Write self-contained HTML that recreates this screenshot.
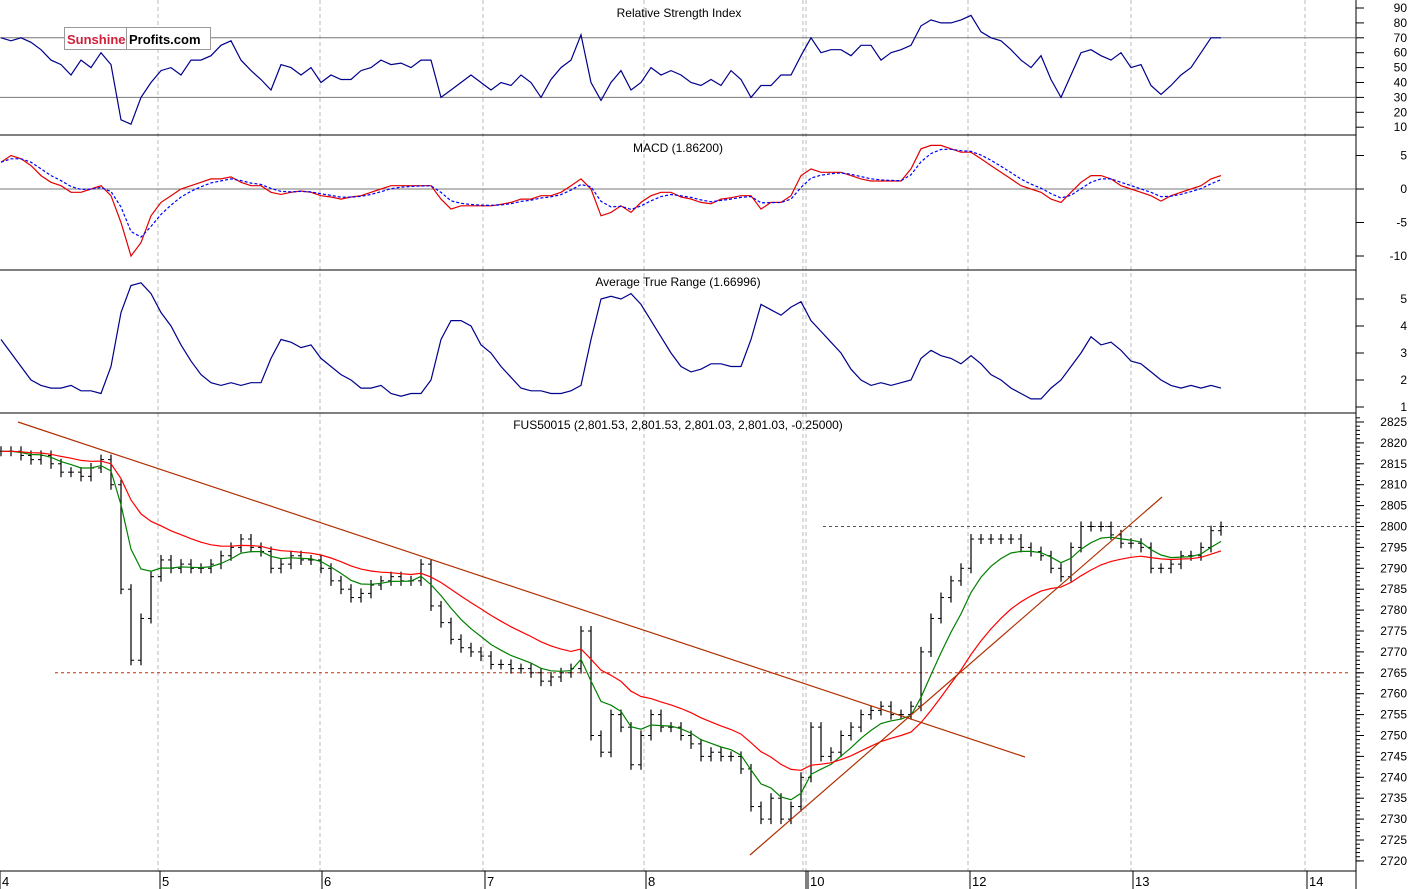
<!DOCTYPE html>
<html><head><meta charset="utf-8"><style>
html,body{margin:0;padding:0;background:#fff;}
svg{display:block;font-family:"Liberation Sans",sans-serif;}
</style></head><body>
<svg id="c" width="1412" height="889" xmlns="http://www.w3.org/2000/svg"></svg>
<script>
const closes=[2818,2818,2817,2816,2817,2815,2813,2813,2812,2814,2816,2810,2785,2768,2778,2788,2792,2790,2791,2790,2790,2791,2793,2795,2797,2795,2794,2790,2791,2793,2792,2792,2790,2787,2785,2783,2784,2786,2787,2788,2787,2787,2791,2781,2777,2773,2771,2770,2769,2767,2767,2766,2766,2765,2763,2764,2765,2766,2775,2750,2746,2755,2752,2743,2750,2755,2752,2752,2750,2748,2745,2746,2745,2745,2742,2733,2730,2735,2730,2733,2740,2752,2745,2746,2750,2752,2755,2756,2757,2755,2755,2757,2770,2778,2783,2787,2790,2797,2797,2797,2797,2797,2795,2794,2793,2790,2788,2795,2800,2800,2800,2798,2796,2796,2795,2790,2790,2791,2793,2793,2795,2799,2800];
const rsi=[70,68,70,67,62,55,52,45,55,50,60,52,15,12,30,40,48,50,45,55,55,58,65,68,55,48,42,35,52,50,45,50,40,45,42,42,48,50,55,52,53,50,55,55,30,35,40,45,40,35,40,38,45,40,30,42,50,55,72,40,28,40,48,35,40,50,45,48,45,40,38,42,38,48,42,30,38,38,45,45,58,70,60,62,62,58,65,65,55,60,62,65,78,82,80,80,82,85,74,70,68,62,55,50,58,42,30,45,60,62,58,55,60,50,52,38,32,38,45,50,60,70,70];
const macd=[4,5,4.5,3.5,2,1,0.5,-0.5,-0.5,0,0.5,-1,-5,-10,-8,-4,-2,-1,0,0.5,1,1.5,1.5,1.8,1,0.5,0.5,-0.5,-0.8,-0.5,-0.3,-0.5,-1,-1.2,-1.5,-1.2,-1,-0.5,0,0.5,0.5,0.5,0.5,0.5,-1.5,-3,-2.5,-2.5,-2.5,-2.5,-2.3,-2,-1.5,-1.5,-1,-1,-0.5,0.5,1.5,0,-4,-3.5,-2.5,-3.5,-2,-1,-0.5,-0.5,-1.2,-1.5,-2,-2.2,-1.5,-1.3,-1,-1,-3,-2,-2,-1,2,3,2.5,2.5,2.5,2,1.5,1.2,1.2,1.2,1.2,3,6,6.5,6.5,6,5.5,5.5,4.5,3.5,2.5,1.5,0.5,0,-0.5,-1.5,-2,-0.5,1,2,2,1.5,0.5,0,-0.5,-1,-1.8,-1,-0.5,0,0.5,1.5,2];
const atr=[3.5,3,2.5,2,1.8,1.7,1.7,1.8,1.6,1.6,1.5,2.5,4.5,5.5,5.6,5.2,4.5,4,3.3,2.7,2.2,1.9,1.8,1.9,1.8,1.9,1.9,2.8,3.5,3.4,3.2,3.3,2.8,2.5,2.2,2,1.7,1.7,1.8,1.5,1.4,1.5,1.5,2,3.5,4.2,4.2,4,3.3,3,2.5,2.1,1.7,1.6,1.6,1.5,1.5,1.6,1.8,3.5,5,5.1,5,5.2,4.8,4.2,3.6,3,2.5,2.3,2.4,2.6,2.6,2.5,2.5,3.5,4.8,4.6,4.4,4.7,4.9,4.2,3.8,3.4,3,2.4,2,1.8,1.9,1.8,1.9,2,2.8,3.1,2.9,2.8,2.6,2.9,2.6,2.2,2,1.7,1.5,1.3,1.3,1.7,2,2.5,3,3.6,3.3,3.4,3.1,2.7,2.6,2.3,2,1.8,1.7,1.8,1.7,1.8,1.7];
const dayLabels=["4","5","6","7","8","10","12","13","14"];
const dayX=[0,160,322,485,646,808,970,1133,1307];
const rsiTicks=[90,80,70,60,50,40,30,20,10];
const macdTicks=[5,0,-5,-10];
const atrTicks=[5,4,3,2,1];
const priceTicks=[2825,2820,2815,2810,2805,2800,2795,2790,2785,2780,2775,2770,2765,2760,2755,2750,2745,2740,2735,2730,2725,2720];

const S=document.getElementById('c');const NS='http://www.w3.org/2000/svg';
function el(t,a,p){const e=document.createElementNS(NS,t);for(const k in a)e.setAttribute(k,a[k]);(p||S).appendChild(e);return e;}
const X=i=>i*10+1;
const yR=v=>8+(90-v)*1.49;
const yM=v=>189-v*6.7;
const yA=v=>407-(v-1)*27;
const yP=v=>422+(2825-v)*4.18;
const R=1356;
dayX.forEach((x,i)=>{if(i==0)return;const g=el('line',{x1:x-2,x2:x-2,y1:0,y2:871,stroke:'#bbb','stroke-dasharray':'4,3'});

});
el('line',{x1:803,x2:803,y1:0,y2:871,stroke:'#bbb','stroke-dasharray':'4,3'});
[135,270,413,871].forEach(y=>el('line',{x1:0,x2:R,y1:y,y2:y,stroke:'#000'}));
el('line',{x1:R,x2:R,y1:0,y2:889,stroke:'#000'});
function axis(ticks,fy,name){ticks.forEach(v=>{const y=fy(v);el('line',{x1:R,x2:R+8,y1:y,y2:y,stroke:'#000'});
const t=el('text',{x:1407,y:y+4,'font-size':12,'text-anchor':'end',fill:'#000'});t.textContent=v;

});}
axis(rsiTicks,yR,'rsi');axis(macdTicks,yM,'macd');axis(atrTicks,yA,'atr');axis(priceTicks,yP,'price');
for(let v=2720;v<=2826;v++){const y=yP(v);el('line',{x1:R,x2:R+4,y1:y,y2:y,stroke:'#000'});}
dayLabels.forEach((d,i)=>{const t=el('text',{x:dayX[i]+2,y:886,'font-size':13,fill:'#000'});t.textContent=d;


el('line',{x1:dayX[i],x2:dayX[i],y1:871,y2:889,stroke:'#000'});});
el('line',{x1:806,x2:806,y1:871,y2:889,stroke:'#000'});
function title(txt,x,y,n){const t=el('text',{x:x,y:y,'font-size':12,'text-anchor':'middle',fill:'#000'});t.textContent=txt;

}
title('Relative Strength Index',679,17,'rsi-title');title('MACD (1.86200)',678,152,'macd-title');
title('Average True Range (1.66996)',678,286,'atr-title');title('FUS50015 (2,801.53, 2,801.53, 2,801.03, 2,801.03, -0.25000)',678,429,'price-title');
el('line',{x1:0,x2:R,y1:yR(70),y2:yR(70),stroke:'#777'});el('line',{x1:0,x2:R,y1:yR(30),y2:yR(30),stroke:'#777'});
el('line',{x1:0,x2:R,y1:yM(0),y2:yM(0),stroke:'#777'});
function poly(arr,fy,col,name,dash){const p=el('polyline',{points:arr.map((v,i)=>X(i)+','+fy(v).toFixed(1)).join(' '),fill:'none',stroke:col,'stroke-width':1.2});
if(dash)p.setAttribute('stroke-dasharray',dash);

}
function ema(a,n){const k=2/(n+1);let o=[],e=a[0];a.forEach(v=>{e=v*k+e*(1-k);o.push(e);});return o;}
poly(rsi,yR,'#00008b','rsi-line');
poly(macd,yM,'#e00000','macd-line');
poly(ema(macd,3),yM,'#0000ff','macd-signal-line','3,2');
poly(atr,yA,'#00008b','atr-line');
el('line',{x1:55,x2:1348,y1:yP(2765),y2:yP(2765),stroke:'#c03000','stroke-dasharray':'3,3'});
el('line',{x1:823,x2:R,y1:yP(2800),y2:yP(2800),stroke:'#555','stroke-dasharray':'3,3'});
closes.forEach((v,i)=>{const pv=i?closes[i-1]:v;const hi=Math.max(v,pv)+1.2,lo=Math.min(v,pv)-1.2;const x=X(i);
const b=el('line',{x1:x,x2:x,y1:yP(hi),y2:yP(lo),stroke:'#000','stroke-width':1.2});


el('line',{x1:x-3,x2:x,y1:yP(pv),y2:yP(pv),stroke:'#000'});el('line',{x1:x,x2:x+3,y1:yP(v),y2:yP(v),stroke:'#000'});});
poly(ema(closes,6),yP,'#008000','ma-fast');
poly(ema(closes,16),yP,'#ff0000','ma-slow');
el('line',{x1:18,y1:422,x2:1025,y2:757,stroke:'#b03000','stroke-width':1.2});
el('line',{x1:750,y1:855,x2:1162,y2:497,stroke:'#b03000','stroke-width':1.2});
const g=el('g',{});
el('rect',{x:64.5,y:27.5,width:146,height:22,fill:'#fff',stroke:'#999'},g);
el('line',{x1:126.5,x2:126.5,y1:28,y2:50,stroke:'#999'},g);
const t1=el('text',{x:67,y:44,'font-size':13,'font-weight':'bold',fill:'#d0203a'},g);t1.textContent='Sunshine';
const t2=el('text',{x:129,y:44,'font-size':13,'font-weight':'bold',fill:'#000'},g);t2.textContent='Profits.com';
</script>
</body></html>
